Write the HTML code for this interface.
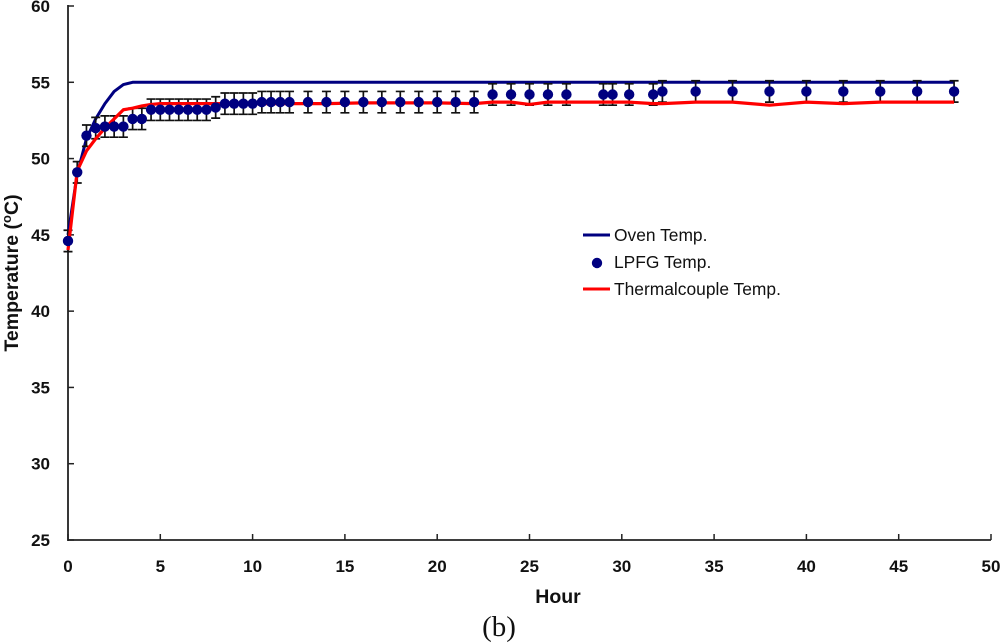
<!DOCTYPE html>
<html lang="en">
<head>
<meta charset="utf-8">
<title>Temperature vs Hour</title>
<style>
html,body{margin:0;padding:0;background:#fff;width:1000px;height:643px;overflow:hidden}
svg{display:block}
text{font-family:"Liberation Sans",sans-serif;fill:#111}
.tick{font-size:17px;font-weight:bold}
.leg{font-size:17.4px}
</style>
</head>
<body>
<svg id="chart" width="1000" height="643" viewBox="0 0 1000 643" xmlns="http://www.w3.org/2000/svg"></svg>
<script>
const xTicks = [0, 5, 10, 15, 20, 25, 30, 35, 40, 45, 50];
const yTicks = [25, 30, 35, 40, 45, 50, 55, 60];

const ovenHours = [0, 0.5, 1, 1.5, 2, 2.5, 3, 3.5, 4, 48];
const ovenTemps = [45, 49, 51.3, 52.6, 53.6, 54.4, 54.85, 55, 55, 55];

const coupleHours = [0, 0.5, 1, 1.5, 2, 2.5, 3, 3.5, 4, 4.5, 5, 13, 14, 16, 18, 20, 22, 23, 24, 25, 26, 27, 29, 30.4, 31.7, 32.2, 34, 36, 38, 40, 42, 44, 46, 48];
const coupleTemps = [44, 49.2, 50.5, 51.3, 52, 52.6, 53.2, 53.3, 53.45, 53.55, 53.6, 53.6, 53.6, 53.65, 53.65, 53.65, 53.6, 53.7, 53.7, 53.55, 53.7, 53.7, 53.7, 53.7, 53.6, 53.6, 53.7, 53.7, 53.5, 53.7, 53.6, 53.7, 53.7, 53.7];

const lpfgHours = [0, 0.5, 1, 1.5, 2, 2.5, 3, 3.5, 4, 4.5, 5, 5.5, 6, 6.5, 7, 7.5, 8, 8.5, 9, 9.5, 10, 10.5, 11, 11.5, 12, 13, 14, 15, 16, 17, 18, 19, 20, 21, 22, 23, 24, 25, 26, 27, 29, 29.5, 30.4, 31.7, 32.2, 34, 36, 38, 40, 42, 44, 46, 48];
const lpfgTemps = [44.6, 49.1, 51.5, 52, 52.1, 52.1, 52.1, 52.6, 52.6, 53.2, 53.2, 53.2, 53.2, 53.2, 53.2, 53.2, 53.35, 53.6, 53.6, 53.6, 53.6, 53.7, 53.7, 53.7, 53.7, 53.7, 53.7, 53.7, 53.7, 53.7, 53.7, 53.7, 53.7, 53.7, 53.7, 54.2, 54.2, 54.2, 54.2, 54.2, 54.2, 54.2, 54.2, 54.2, 54.4, 54.4, 54.4, 54.4, 54.4, 54.4, 54.4, 54.4, 54.4];
const lpfgError = 0.7;

const NS = 'http://www.w3.org/2000/svg';
const svg = document.getElementById('chart');
const sx = h => 68 + (h - 0) * (991 - 68) / 50;
const sy = t => 540 - (t - 25) * (540 - 6) / 35;

function make(tag, attrs, text) {
  const el = document.createElementNS(NS, tag);
  for (const k in attrs) el.setAttribute(k, attrs[k]);
  if (text !== undefined) el.textContent = text;
  svg.appendChild(el);
  return el;
}
function polyPoints(hours, temps) {
  return hours.map((h, i) => sx(h).toFixed(2) + ',' + sy(temps[i]).toFixed(2)).join(' ');
}

// Axes
const yAxis = make('line', {x1: sx(0), y1: sy(60) - 1, x2: sx(0), y2: sy(25) + 1, stroke: '#222', 'stroke-width': 1.8});


const xAxis = make('line', {x1: sx(0), y1: sy(25), x2: sx(50), y2: sy(25), stroke: '#222', 'stroke-width': 1.8});



xTicks.forEach(v => {
  const t = make('line', {x1: sx(v), y1: sy(25), x2: sx(v), y2: sy(25) - 6, stroke: '#222', 'stroke-width': 1.5});
  
  
  const l = make('text', {x: sx(v), y: 572, 'text-anchor': 'middle', class: 'tick'}, String(v));
  
  
});
yTicks.forEach(v => {
  const t = make('line', {x1: sx(0), y1: sy(v), x2: sx(0) + 6, y2: sy(v), stroke: '#222', 'stroke-width': 1.5});
  
  
  const l = make('text', {x: 50, y: sy(v) + 6, 'text-anchor': 'end', class: 'tick'}, String(v));
  
  
});

// Oven line
const oven = make('polyline', {points: polyPoints(ovenHours, ovenTemps), fill: 'none', stroke: '#000080', 'stroke-width': 3, 'stroke-linejoin': 'round'});



// Error bars
lpfgHours.forEach((h, i) => {
  const x = sx(h), hi = sy(lpfgTemps[i] + lpfgError), lo = sy(lpfgTemps[i] - lpfgError);
  const e = make('path', {d: `M${x} ${hi}V${lo}M${x - 4.5} ${hi}H${x + 4.5}M${x - 4.5} ${lo}H${x + 4.5}`, fill: 'none', stroke: '#111', 'stroke-width': 1.7});
  
  
});

// Thermocouple line
const couple = make('polyline', {points: polyPoints(coupleHours, coupleTemps), fill: 'none', stroke: '#ff0000', 'stroke-width': 3.2, 'stroke-linejoin': 'round'});



// LPFG markers
lpfgHours.forEach((h, i) => {
  const c = make('circle', {cx: sx(h), cy: sy(lpfgTemps[i]), r: 5.2, fill: '#000080'});
  
  
});

// Axis titles
const yTitle = make('text', {x: 0, y: 0, transform: 'translate(18,273) rotate(-90)', 'text-anchor': 'middle', 'font-size': 19.5, 'font-weight': 'bold'});


yTitle.innerHTML = 'Temperature (<tspan dy="-7" font-size="13">o</tspan><tspan dy="7">C)</tspan>';
const xTitle = make('text', {x: 558, y: 603, 'text-anchor': 'middle', 'font-size': 19.5, 'font-weight': 'bold'}, 'Hour');


const caption = make('text', {x: 499, y: 636, 'text-anchor': 'middle', 'font-size': 29, style: 'font-family:"Liberation Serif",serif'}, '(b)');



// Legend
const l1 = make('line', {x1: 583, y1: 235, x2: 610, y2: 235, stroke: '#000080', 'stroke-width': 3});


const t1 = make('text', {x: 614, y: 241, class: 'leg'}, 'Oven Temp.');


const l2 = make('circle', {cx: 597, cy: 263, r: 5.2, fill: '#000080'});


const t2 = make('text', {x: 614, y: 268, class: 'leg'}, 'LPFG Temp.');


const l3 = make('line', {x1: 583, y1: 289, x2: 610, y2: 289, stroke: '#ff0000', 'stroke-width': 3});


const t3 = make('text', {x: 614, y: 295, class: 'leg'}, 'Thermalcouple Temp.');


</script>
</body>
</html>
